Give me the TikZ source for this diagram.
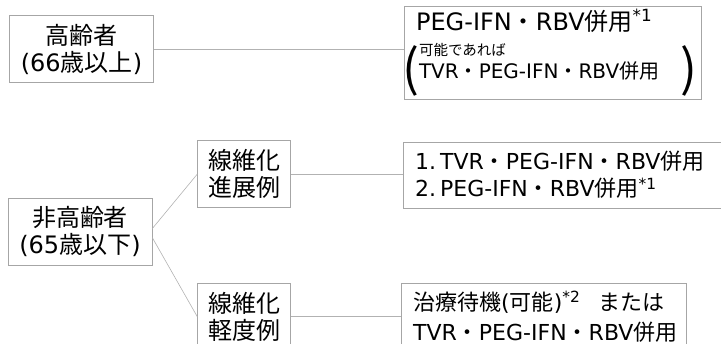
\documentclass[tikz,border=0pt]{standalone}
\usepackage{fontspec}
\setmainfont{Noto Sans CJK JP}
\newfontfamily\latfont{DejaVu Sans}
\newcommand\lt[1]{{\latfont #1}}
\newcommand\bigparen[1]{{\fontsize{50}{50}\selectfont #1}}
\usetikzlibrary{positioning}

\begin{document}
\begin{tikzpicture}[x=1pt,y=1pt]

      \tikzstyle{agebox}=[rectangle,draw=gray!70,line width=0.6pt,
        minimum width=144pt,minimum height=67pt,
        align=center,font=\fontsize{24}{27}\selectfont]
      \tikzstyle{stagebox}=[agebox,minimum width=93pt]
      \tikzstyle{txbox}=[rectangle,draw=gray!70,line width=0.6pt,
        inner xsep=12pt,minimum height=66pt,
        align=left,font=\fontsize{22}{27}\selectfont]
      \tikzstyle{link}=[draw=gray!60,line width=0.6pt]

      \useasboundingbox (0,0) rectangle (721,-344);

      \node(Elder)[agebox] at (81.5,-49)
        {高齢者\\\lt{(66}歳以上\lt{)}};
      \node(Young)[agebox,below=115pt of Elder,
        xshift=-1.5pt]{非高齢者\\\lt{(65}歳以下\lt{)}};

      \node(Advanced)[stagebox,right=45pt of Young,
        yshift=57.5pt]{線維化\\進展例};
      \node(Mild)[stagebox,below=75pt of Advanced]{線維化\\軽度例};

      \node(ElderTx)[txbox,right=250pt of Elder,yshift=-4pt,
        text width=273pt,minimum height=88pt,inner ysep=3pt,
        font=\fontsize{24}{27}\selectfont]
        {\lt{PEG-IFN}・\lt{RBV}併用\textsuperscript{\lt{*1}}\\[10pt]
        \mbox{\hspace*{-14pt}\raisebox{-8pt}{\bigparen(}%
        \parbox[b]{245pt}{\fontsize{14.5}{14.5}\selectfont 可能であれば\\[3pt]
          \fontsize{20}{20}\selectfont\lt{TVR}・\lt{PEG-IFN}・\lt{RBV}併用}%
        \hspace{16pt}\raisebox{-8pt}{\bigparen)}}};
      \node(AdvTx)[txbox,right=112pt of Advanced,yshift=-1pt,
        text width=330pt]
        {\lt{1.}\hspace{4pt}\lt{TVR}・\lt{PEG-IFN}・\lt{RBV}併用\\
        \lt{2.}\hspace{4pt}\lt{PEG-IFN}・\lt{RBV}併用\textsuperscript{\lt{*1}}};
      \node(MildTx)[txbox,right=110pt of Mild,
        text width=261pt,minimum height=67pt]
        {\mbox{治療待機\lt{(}可能\lt{)}\textsuperscript{\lt{*2}}\hspace{18pt}または}\\[3pt]
        \mbox{\lt{TVR}・\lt{PEG-IFN}・\lt{RBV}併用}};

      \draw [link] (Elder.east)--(Elder.east -| ElderTx.west);
      \draw [link] ([yshift=3pt]Young.east)--(Advanced.west);
      \draw [link] ([yshift=-6pt]Young.east)--(Mild.west);
      \draw [link] (Advanced.east)--(Advanced.east -| AdvTx.west);
      \draw [link] (Mild.east)--(Mild.east -| MildTx.west);

    \end{tikzpicture}
\end{document}
